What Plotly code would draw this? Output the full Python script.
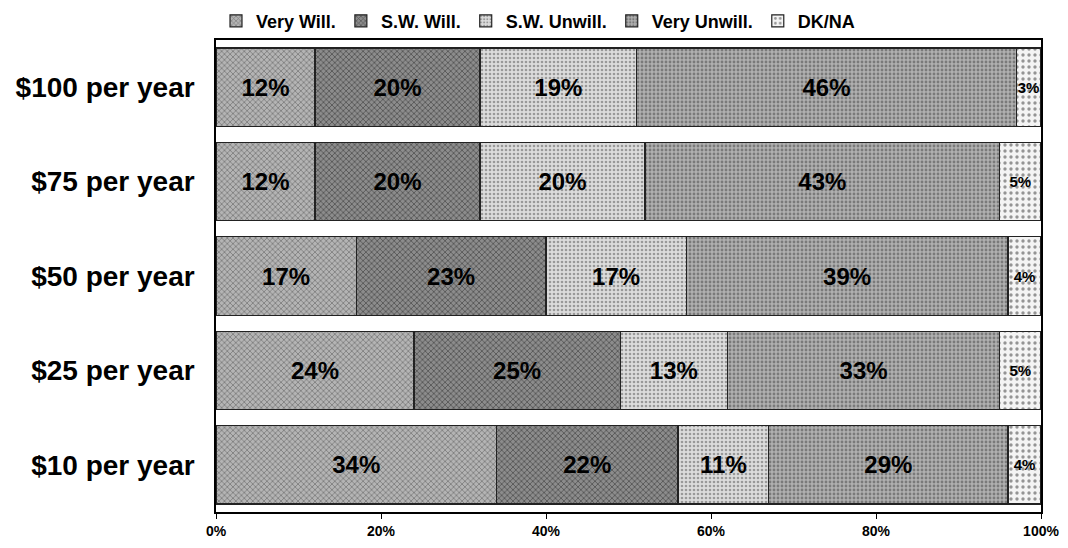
from plotly import graph_objects as go

# categories, top to bottom
categories = ['$100 per year', '$75 per year', '$50 per year', '$25 per year', '$10 per year']
series_names = ['Very Will.', 'S.W. Will.', 'S.W. Unwill.', 'Very Unwill.', 'DK/NA']

very_will = [12, 12, 17, 24, 34]
sw_will = [20, 20, 23, 25, 22]
sw_unwill = [19, 20, 17, 13, 11]
very_unwill = [46, 43, 39, 33, 29]
dk_na = [3, 5, 4, 5, 4]

values = [very_will, sw_will, sw_unwill, very_unwill, dk_na]

tick_vals = [0, 20, 40, 60, 80, 100]
tick_text = ['0%', '20%', '40%', '60%', '80%', '100%']

# grey halftone look: (background, foreground, pattern shape, size, solidity)
styles = [
    ('#b4b4b4', '#3a3a3a', 'x', 4, 0.35),
    ('#8c8c8c', '#222222', 'x', 4, 0.4),
    ('#dcdcdc', '#555555', '.', 4, 0.35),
    ('#b0b0b0', '#444444', '.', 4, 0.4),
    ('#f4f4f4', '#333333', '.', 6, 0.25),
]

fig = go.Figure()

for name, vals, st in zip(series_names, values, styles):
    bg, fg, shape, size, sol = st
    fig.add_trace(go.Bar(
        name=name,
        y=categories,
        x=vals,
        orientation='h',
        text=[f'{v}%' for v in vals],
        textposition='inside',
        insidetextanchor='middle',
        textangle=0,
        constraintext='none',
        textfont=dict(family='Liberation Sans, Arial', size=24, color='black', weight='bold'),
        marker=dict(
            color=bg,
            line=dict(color='#222222', width=1.2),
            pattern=dict(shape=shape, fgcolor=fg, bgcolor=bg, size=size, solidity=sol),
        ),
    ))

# the thin DK/NA column needs a smaller label
fig.data[4].textfont.size = 15

# page body adds an 8px offset, so margins are shifted by that amount
fig.update_layout(
    barmode='stack',
    bargap=0.17,
    width=1068,
    height=548,
    margin=dict(l=208, r=35, t=32, b=44, autoexpand=False),
    paper_bgcolor='white',
    plot_bgcolor='white',
    font=dict(family='Liberation Sans, Arial', color='black'),
    legend=dict(
        orientation='h',
        traceorder='normal',
        x=0.0, xanchor='left',
        y=1.04, yanchor='middle',
        bgcolor='rgba(0,0,0,0)',
        font=dict(size=18, weight='bold'),
        itemwidth=30,
        tracegroupgap=0,
    ),
)

fig.update_xaxes(
    range=[0, 100],
    tickmode='array',
    tickvals=tick_vals,
    ticktext=tick_text,
    tickfont=dict(family='Liberation Sans Narrow, Liberation Sans, Arial', size=14, weight='bold'),
    showgrid=False,
    showline=True,
    linecolor='black',
    linewidth=1.5,
    ticks='outside',
    ticklen=5,
    tickcolor='black',
    mirror=True,
    zeroline=False,
    automargin=False,
)

fig.update_yaxes(
    categoryorder='array',
    categoryarray=categories[::-1],
    tickfont=dict(family='Liberation Sans, Arial', size=28, weight='bold'),
    showline=True,
    linecolor='black',
    linewidth=1.5,
    mirror=True,
    ticks='',
    ticklabelstandoff=14,
    automargin=False,
)

fig.write_html("out.html")
